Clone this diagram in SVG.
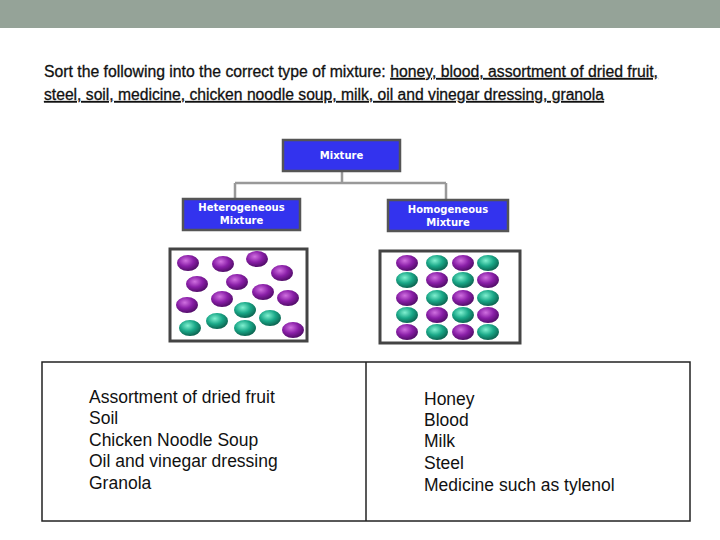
<svg xmlns="http://www.w3.org/2000/svg" width="720" height="540" viewBox="0 0 720 540">
<style>
.t{font-family:"Liberation Sans",Arial,sans-serif;fill:#111}
.q{font-size:16px;stroke:#111;stroke-width:0.3}
.b{font-size:17.5px}
.h{font-family:"DejaVu Sans",sans-serif;font-weight:bold;font-size:10px;fill:#fff;text-anchor:middle}
.box{fill:#3333ee;stroke:#555;stroke-width:2.5}
.fr{fill:#fff;stroke:#444;stroke-width:3}
.p{fill:url(#gp)}
.g{fill:url(#gg)}
</style>
<defs>
<radialGradient id="gp" cx="0.4" cy="0.35" r="0.7"><stop offset="0" stop-color="#d070e0"/><stop offset="0.5" stop-color="#8a1fa8"/><stop offset="1" stop-color="#4a0a60"/></radialGradient>
<radialGradient id="gg" cx="0.4" cy="0.35" r="0.7"><stop offset="0" stop-color="#80f0d0"/><stop offset="0.5" stop-color="#1aa888"/><stop offset="1" stop-color="#0a5a48"/></radialGradient>
</defs>
<rect width="720" height="540" fill="#fff"/>
<rect width="720" height="28" fill="#95a398"/>
<text class="t q" x="44" y="77" textLength="614" lengthAdjust="spacingAndGlyphs">Sort the following into the correct type of mixture: <tspan text-decoration="underline">honey,  blood, assortment of dried fruit,</tspan></text>
<text class="t q" x="44" y="100" textLength="560" lengthAdjust="spacingAndGlyphs" text-decoration="underline">steel, soil, medicine, chicken noodle soup, milk, oil and vinegar dressing, granola</text>
<g id="connectors" fill="none" stroke="#999" stroke-width="2.5">
<path d="M342 171V183M235 183H446M235 183V200M446 183V201"/>
</g>
<g id="mixture"><rect class="box" x="283" y="140" width="117" height="31"/><text class="h" x="341.5" y="159">Mixture</text></g>
<g id="hetero"><rect class="box" x="183" y="199" width="117" height="31"/><text class="h" x="241.5" y="211">Heterogeneous</text><text class="h" x="241.5" y="224">Mixture</text></g>
<g id="homo"><rect class="box" x="388" y="200" width="120" height="31"/><text class="h" x="448" y="213">Homogeneous</text><text class="h" x="448" y="226">Mixture</text></g>
<g id="hetero-pic">
<rect class="fr" x="170" y="249" width="137" height="92"/>
<ellipse class="p" cx="188" cy="263" rx="11" ry="8"/><ellipse class="p" cx="223" cy="264" rx="11" ry="8"/><ellipse class="p" cx="257" cy="259" rx="11" ry="8"/><ellipse class="p" cx="282" cy="273" rx="11" ry="8"/>
<ellipse class="p" cx="197" cy="284" rx="11" ry="8"/><ellipse class="p" cx="237" cy="282" rx="11" ry="8"/><ellipse class="p" cx="263" cy="292" rx="11" ry="8"/><ellipse class="p" cx="288" cy="298" rx="11" ry="8"/>
<ellipse class="p" cx="187" cy="305" rx="11" ry="8"/><ellipse class="p" cx="222" cy="299" rx="11" ry="8"/><ellipse class="g" cx="245" cy="310" rx="11" ry="8"/><ellipse class="g" cx="217" cy="321" rx="11" ry="8"/>
<ellipse class="g" cx="270" cy="318" rx="11" ry="8"/><ellipse class="g" cx="190" cy="328" rx="11" ry="8"/><ellipse class="g" cx="245" cy="328" rx="11" ry="8"/><ellipse class="p" cx="293" cy="330" rx="11" ry="8"/>
</g>
<g id="homo-pic">
<rect class="fr" x="380" y="251" width="140" height="92"/>
<ellipse class="p" cx="407" cy="263" rx="11" ry="8"/><ellipse class="g" cx="437" cy="263" rx="11" ry="8"/><ellipse class="p" cx="463" cy="263" rx="11" ry="8"/><ellipse class="g" cx="488" cy="263" rx="11" ry="8"/>
<ellipse class="g" cx="407" cy="280" rx="11" ry="8"/><ellipse class="p" cx="437" cy="280" rx="11" ry="8"/><ellipse class="g" cx="463" cy="280" rx="11" ry="8"/><ellipse class="p" cx="488" cy="280" rx="11" ry="8"/>
<ellipse class="p" cx="407" cy="298" rx="11" ry="8"/><ellipse class="g" cx="437" cy="298" rx="11" ry="8"/><ellipse class="p" cx="463" cy="298" rx="11" ry="8"/><ellipse class="g" cx="488" cy="298" rx="11" ry="8"/>
<ellipse class="g" cx="407" cy="315" rx="11" ry="8"/><ellipse class="p" cx="437" cy="315" rx="11" ry="8"/><ellipse class="g" cx="463" cy="315" rx="11" ry="8"/><ellipse class="p" cx="488" cy="315" rx="11" ry="8"/>
<ellipse class="p" cx="407" cy="332" rx="11" ry="8"/><ellipse class="g" cx="437" cy="332" rx="11" ry="8"/><ellipse class="p" cx="463" cy="332" rx="11" ry="8"/><ellipse class="g" cx="488" cy="332" rx="11" ry="8"/>
</g>
<g id="table" fill="none" stroke="#222" stroke-width="1.5">
<rect x="42" y="362" width="648" height="159"/><path d="M366 362V521"/>
</g>
<g id="left-list" class="t b">
<text x="89" y="403">Assortment of dried fruit</text><text x="89" y="424">Soil</text><text x="89" y="446">Chicken Noodle Soup</text><text x="89" y="467">Oil and vinegar dressing</text><text x="89" y="489">Granola</text>
</g>
<g id="right-list" class="t b">
<text x="424" y="405">Honey</text><text x="424" y="426">Blood</text><text x="424" y="447">Milk</text><text x="424" y="469">Steel</text><text x="424" y="491">Medicine such as tylenol</text>
</g>
</svg>
